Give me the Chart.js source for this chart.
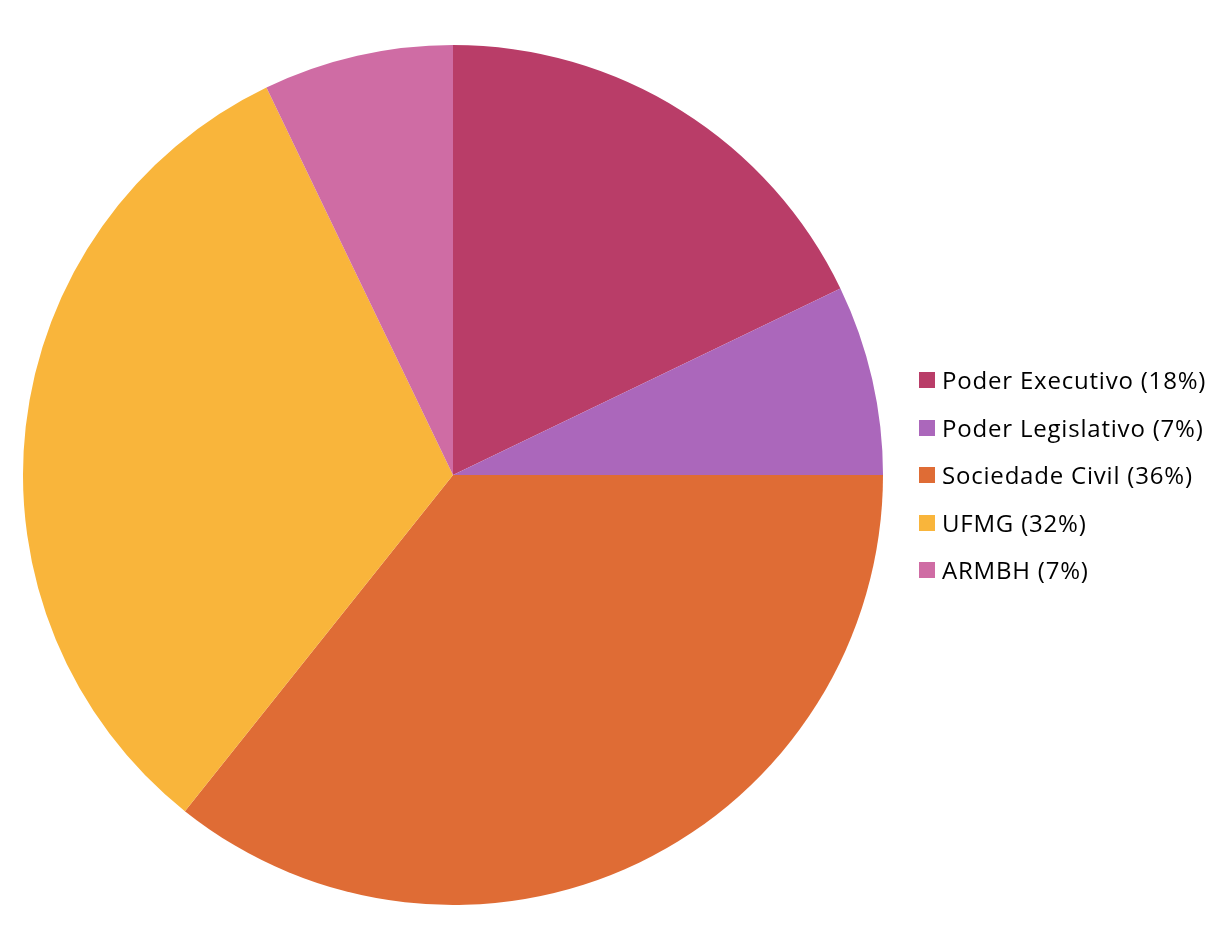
<!DOCTYPE html>
<html>
<head>
<meta charset="utf-8">
<script src="https://cdn.jsdelivr.net/npm/chart.js@4"></script>
<style>
  body { margin: 0; background: #fff; }
  #wrap { position: relative; width: 1229px; height: 952px; }
  #legend { position: absolute; left: 919px; top: 364px; font-family: "Open Sans", sans-serif; font-size: 24px; line-height: 32px; letter-spacing: 0.8px; color: #000; }
  #legend div { height: 47.5px; display: flex; align-items: flex-start; white-space: nowrap; }
  #legend span.box { display: inline-block; width: 16px; height: 16px; margin: 8px 7px 0 0; }
</style>
</head>
<body>
<div id="wrap">
  <canvas id="chart"></canvas>
  <div id="legend"></div>
</div>
<script>
const labels = ['Poder Executivo', 'Poder Legislativo', 'Sociedade Civil', 'UFMG', 'ARMBH'];
const counts = [5, 2, 10, 9, 2];
const colors = ['#B93D68', '#AB67BB', '#DF6C35', '#F9B53B', '#CF6CA4'];

const total = counts.reduce((a, b) => a + b, 0);
const legendLabels = labels.map((l, i) => `${l} (${Math.round(counts[i] / total * 100)}%)`);

const ctx = document.getElementById('chart').getContext('2d');
const chart = new Chart(ctx, {
    type: 'pie',
    data: {
        labels: legendLabels,
        datasets: [{
            data: counts,
            backgroundColor: colors,
            borderWidth: 0
        }]
    },
    options: {
        responsive: true,
        maintainAspectRatio: false,
        animation: false,
        layout: { padding: { left: 23, top: 45, right: 346, bottom: 47 } },
        plugins: {
            legend: { display: false },
            tooltip: { enabled: false }
        }
    }
});

const legendEl = document.getElementById('legend');
chart.data.labels.forEach((text, i) => {
    const row = document.createElement('div');
    const box = document.createElement('span');
    box.className = 'box';
    box.style.background = colors[i];
    row.appendChild(box);
    row.appendChild(document.createTextNode(text));
    legendEl.appendChild(row);
});
</script>
</body>
</html>
